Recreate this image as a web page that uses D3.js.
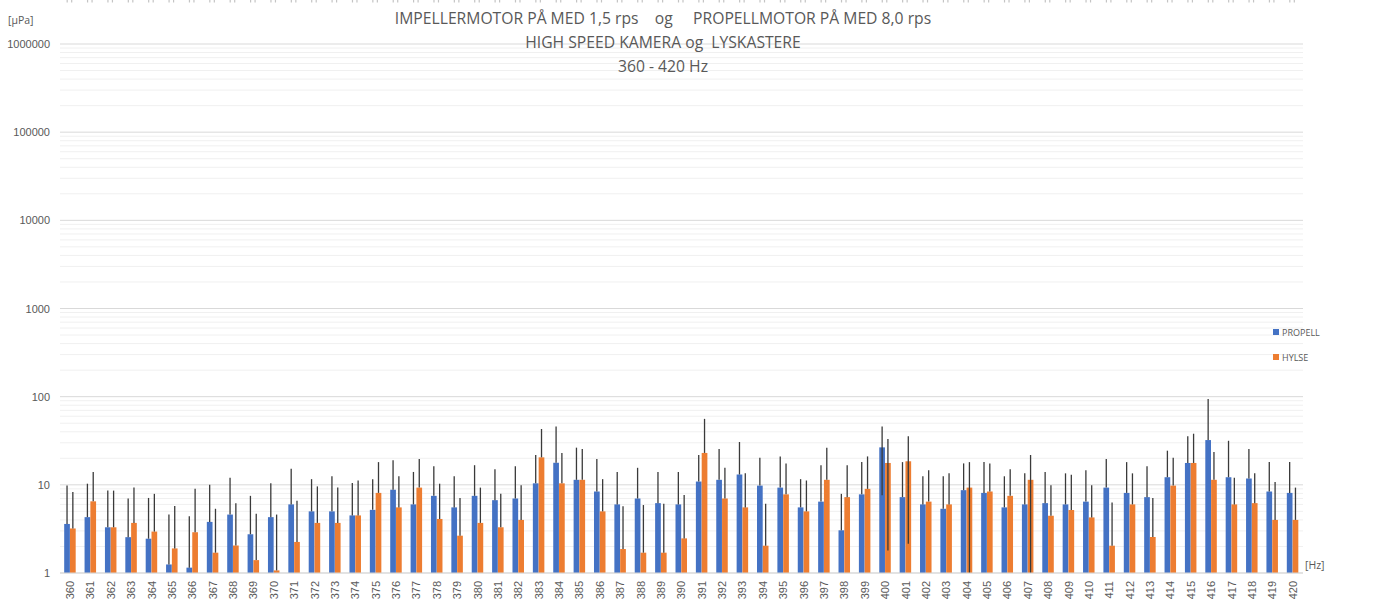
<!DOCTYPE html>
<html>
<head>
<meta charset="utf-8">
<script src="https://cdn.jsdelivr.net/npm/d3@7"></script>
<style>
  html, body { margin: 0; padding: 0; background: #fff; overflow: hidden; }
  svg { display: block; font-family: "Open Sans", "Liberation Sans", sans-serif; }
  text { white-space: pre; }
</style>
</head>
<body>
<svg id="chart" width="1386" height="603"></svg>
<script>
// ---- data ----
const categories = d3.range(360, 421).map(String);
const seriesNames = ["PROPELL", "HYLSE"];
const seriesColors = ["#4472C4", "#ED7D31"];

const propell = [3.6,4.3,3.3,2.55,2.45,1.25,1.15,3.8,4.6,2.75,4.3,6.0,5.0,5.0,4.5,5.2,8.8,6.0,7.5,5.55,
  7.5,6.7,7.0,10.4,17.8,11.4,8.4,6.0,7.0,6.2,6.0,10.9,11.4,13.1,9.8,9.3,5.55,6.45,3.05,7.8,
  26.6,7.25,6.0,5.35,8.7,8.1,5.55,6.0,6.2,6.0,6.45,9.3,8.1,7.25,12.2,17.7,32.2,12.2,11.8,8.4,8.1];
const propellErrTop = [9.8,10.3,8.6,7.0,7.1,4.6,4.4,10,12,7.5,10.4,15.2,11.6,12.5,10.5,11.6,19,14,16.2,12.5,
  16.7,15,16.2,21.8,46,26.4,19.6,14,15.6,14,14,21.8,25.5,30.6,20.3,21,11.6,16.7,7.9,18.1,
  46,18.1,12.5,12.5,17.5,18.1,12.5,13.5,14,13.5,14.6,19.6,18.1,16.2,24.4,35.5,94,31.6,25.5,18.1,18.1];
// lower error ends that are visible (null = hidden by the bar)
const propellErrLow = categories.map(c => c === "400" ? 7.6 : null);

const hylse = [3.2,6.5,3.3,3.7,2.95,1.9,2.9,1.7,2.05,1.4,1.07,2.25,3.7,3.7,4.5,8.1,5.55,9.3,4.1,2.65,
  3.7,3.3,4.0,20.5,10.4,11.4,5.0,1.87,1.7,1.7,2.47,23,7.0,5.55,2.04,7.8,5.0,11.4,7.25,9.0,
  17.7,18.5,6.45,6.0,9.3,8.4,7.5,11.4,4.46,5.18,4.27,2.04,6.0,2.56,9.8,17.7,11.4,6.0,6.2,4.0,4.0];
const hylseErrTop = [8.3,14,8.6,9.3,7.9,5.75,9,5.35,6.2,4.7,4.6,6.6,9.6,9.3,11.2,18.1,12.5,19.6,10.3,7.1,
  9.3,7.9,9.9,43,23,25.5,11.6,5.7,5.9,6.1,7.66,56,15.6,13.5,6.1,17.5,11.2,26.4,16.7,21,
  33,35.5,14.6,13.5,18.1,17.5,15,21.8,9.9,13,9.9,6.3,13.5,7.1,20.3,38,23.5,12,13.5,10.8,9.3];
const hylseErrLow = categories.map(c => ({"400":1.8,"401":2.15,"404":1,"407":1})[c] ?? null);

const yTicks = [1, 10, 100, 1000, 10000, 100000, 1000000];
const titleLines = ["IMPELLERMOTOR PÅ MED 1,5 rps    og     PROPELLMOTOR PÅ MED 8,0 rps",
                    "HIGH SPEED KAMERA og  LYSKASTERE",
                    "360 - 420 Hz"];
const yUnit = "[µPa]";
const xUnit = "[Hz]";

// ---- layout ----
const svg = d3.select("#chart");
const plot = {left: 60, right: 1303, top: 44, bottom: 573};

const x = d3.scaleBand().domain(categories).range([plot.left, plot.right]);
const y = d3.scaleLog().domain([1, 1000000]).range([plot.bottom, plot.top]);

// gridlines (minor then major)
const minor = [];
for (let e = 0; e < 6; e++) for (let m = 2; m <= 9; m++) minor.push(m * Math.pow(10, e));
svg.append("g").selectAll("line").data(minor).join("line")
  .attr("x1", plot.left).attr("x2", plot.right)
  .attr("y1", d => y(d)).attr("y2", d => y(d))
  .attr("stroke", "#f0f0f0").attr("stroke-width", 1);
svg.append("g").selectAll("line").data(yTicks).join("line")
  .attr("x1", plot.left).attr("x2", plot.right)
  .attr("y1", d => y(d)).attr("y2", d => y(d))
  .attr("stroke", "#d9d9d9").attr("stroke-width", 1);

// y axis labels
const yAxis = d3.axisLeft(y).tickValues(yTicks).tickFormat(d3.format("d")).tickSize(0).tickPadding(10);
const gy = svg.append("g").attr("transform", `translate(${plot.left},0)`).call(yAxis);
gy.select(".domain").remove();
gy.selectAll("text").attr("fill", "#595959").attr("font-size", 11);

svg.append("text").attr("x", 8).attr("y", 24).attr("fill", "#595959").attr("font-size", 10.5).text(yUnit);

// bars
const sub = d3.scaleBand().domain([0, 1]).range([x.bandwidth()/2 - 6, x.bandwidth()/2 + 5.5]).paddingInner(0.02);
const series = [
  {vals: propell, top: propellErrTop, low: propellErrLow},
  {vals: hylse, top: hylseErrTop, low: hylseErrLow}
];
series.forEach((s, si) => {
  const g = svg.append("g");
  g.selectAll("rect").data(categories).join("rect")
    .attr("x", (c) => x(c) + sub(si))
    .attr("width", sub.bandwidth())
    .attr("y", (c, i) => y(s.vals[i]))
    .attr("height", (c, i) => y(1) - y(s.vals[i]))
    .attr("fill", seriesColors[si]);
});
series.forEach((s, si) => {
  const g = svg.append("g");
  g.selectAll("line").data(categories).join("line")
    .attr("x1", c => x(c) + sub(si) + sub.bandwidth()/2)
    .attr("x2", c => x(c) + sub(si) + sub.bandwidth()/2)
    .attr("y1", (c, i) => y(s.top[i]))
    .attr("y2", (c, i) => y(s.low[i] != null ? s.low[i] : s.vals[i]))
    .attr("stroke", "#3a3a3a").attr("stroke-width", 1.3);
});

// baseline
svg.append("line").attr("x1", plot.left).attr("x2", plot.right)
  .attr("y1", y(1)).attr("y2", y(1)).attr("stroke", "#d9d9d9");

// x axis labels
const xAxis = d3.axisBottom(x).tickSize(0).tickPadding(0);
const gx = svg.append("g").attr("transform", `translate(0,${plot.bottom})`).call(xAxis);
gx.select(".domain").remove();
gx.selectAll("text")
  .attr("fill", "#595959").attr("font-size", 11)
  .attr("transform", "rotate(-90)")
  .attr("text-anchor", "end")
  .attr("x", -8).attr("y", 0).attr("dy", "0.35em");

svg.append("text").attr("x", 1305).attr("y", 569).attr("fill", "#595959").attr("font-size", 10.5).text(xUnit);

// fragments of a previous chart's labels visible at the top edge
const frag = svg.append("g").selectAll("g").data(categories).join("g")
  .attr("transform", c => `translate(${x(c) + x.bandwidth()/2},0)`);
frag.append("line").attr("x1", -3).attr("x2", -3).attr("y1", 0).attr("y2", 2.5)
  .attr("stroke", "#c4c4c4").attr("stroke-width", 1.2);
frag.append("line").attr("x1", 1.5).attr("x2", 1.5).attr("y1", 0).attr("y2", 2.5)
  .attr("stroke", "#c4c4c4").attr("stroke-width", 1.2);

// title
svg.append("g").selectAll("text").data(titleLines).join("text")
  .attr("x", 663).attr("y", (d, i) => 24 + i * 24)
  .attr("text-anchor", "middle").attr("fill", "#595959").attr("font-size", 15.7)
  .text(d => d);

// legend
const lg = svg.append("g").selectAll("g").data(seriesNames).join("g")
  .attr("transform", (d, i) => `translate(1273,${329 + i * 25})`);
lg.append("rect").attr("width", 6).attr("height", 6).attr("fill", (d, i) => seriesColors[i]);
lg.append("text").attr("x", 9).attr("y", 6.5).attr("font-size", 9).attr("fill", "#595959").text(d => d);
</script>
</body>
</html>
